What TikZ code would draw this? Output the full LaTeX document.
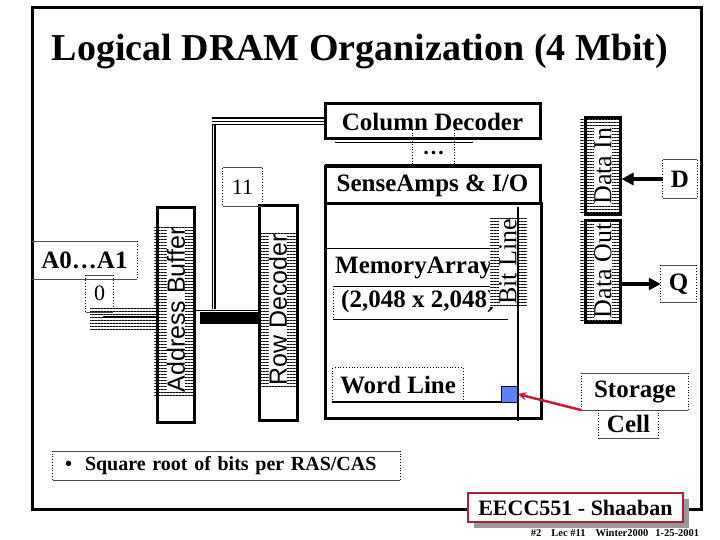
\documentclass[tikz,border=0pt]{standalone}
\usepackage{graphicx}
\usepackage{fontspec}
\setmainfont{Liberation Serif}
\newfontfamily\sansf{Liberation Sans}
\usetikzlibrary{arrows.meta,patterns.meta,shadows}
\definecolor{cellblue}{RGB}{96,128,240}
\definecolor{arrred}{RGB}{200,25,60}
\definecolor{eeccred}{RGB}{175,30,55}
\newcommand{\txtboxframe}[1]{%
  \draw[tbline] (#1.north west) -- (#1.north east) (#1.south west) -- (#1.south east);
  \draw[tbdot] (#1.north west) -- (#1.south west) (#1.north east) -- (#1.south east);}
\begin{document}
\begin{tikzpicture}[x=1pt,y=-1pt,
  thickbox/.style={draw, line width=3pt, inner sep=0pt},
  bl/.style={font=\bfseries\fontsize{25}{28}\selectfont},
  rl/.style={font=\fontsize{22}{26}\selectfont},
  vt/.style={rotate=90, fill=white, inner sep=0pt},
  tbline/.style={draw=black!70, line width=0.6pt},
  tbdot/.style={draw=black, line width=0.8pt, dotted},
  hatch/.style={fill=white, postaction={pattern={Lines[angle=0,distance=3pt,line width=1pt]}}},
  hbus/.style={line width=8pt, postaction={draw=white,line width=4.5pt}, postaction={draw=black,line width=1.4pt}},
  vbus/.style={line width=4pt, postaction={draw=white,line width=1.4pt}},
]
\useasboundingbox (0,0) rectangle (720,540);
\fill[white] (0,0) rectangle (720,540);

% outer frame
\draw[line width=3pt] (32,8) rectangle (701,509);

% title
\node[font=\bfseries\fontsize{38}{42}\selectfont, inner sep=0pt] (title) at (360,52) {Logical DRAM Organization (4 Mbit)};

% column decoder, dots, sense amps
\node[font=\bfseries\fontsize{22}{24}\selectfont, minimum width=41pt, minimum height=37pt, inner sep=0pt, text height=12pt, text depth=0pt] (dots) at (433.5,148.5) {…};
\draw[tbdot] (dots.north west) -- (dots.south west) (dots.north east) -- (dots.south east);
\node[thickbox, bl, minimum width=215pt, minimum height=35pt] (coldec) at (432.5,121.5) {Column Decoder};
\draw[line width=0.8pt] (335,142) -- (473,142);
\draw[line width=0.8pt] (325,164) -- (542,164);
\node[thickbox, bl, minimum width=215pt, minimum height=37pt] (sense) at (432.5,185.5) {SenseAmps \& I/O};

% memory array
\node[thickbox, minimum width=216pt, minimum height=214pt] (memarr) at (433,311) {};
\draw[line width=0.6pt] (326,248) -- (490,248) (333,286) -- (490,286) (333,319) -- (508,319);
\draw[tbdot] (333,286) -- (333,319);
\node[bl, anchor=west, inner sep=0pt] (memtxt) at (335,268) {MemoryArray};
\node[bl, anchor=west, inner sep=0pt] (memsize) at (341,301) {(2,048 x 2,048)};

% bit line label
\path[hatch] (490,218) rectangle (527,307);
\begin{scope}
  \clip (490,218) rectangle (527,307);
  \node[vt, font=\fontsize{26}{28}\selectfont] (bitlbl) at (508,262) {Bit Line};
\end{scope}

% word line label
\node[bl, minimum width=130pt, minimum height=34pt, inner sep=0pt] (wordlbl) at (398,385) {Word Line};
\draw[tbdot] (wordlbl.south west) -- (wordlbl.north west) -- (wordlbl.north east) -- (wordlbl.south east);

% bit line and word line
\coordinate (bltop) at (518,207);
\coordinate (blbot) at (518,421);
\coordinate (wlL) at (332,402);
\draw[line width=1.2pt] (bltop) -- (blbot);
\draw[line width=1.2pt] (wlL) -- (wlL -| bltop);

% storage cell
\node[draw=black!60!blue, fill=cellblue, line width=0.8pt, minimum size=16pt, inner sep=0pt] (cell) at (509,394) {};
\node[bl, minimum width=106pt, minimum height=37pt, inner sep=0pt] (storage) at (635,391.5) {Storage};
\node[bl, minimum width=59pt, minimum height=28pt, inner sep=0pt] (celllbl) at (628.5,424) {Cell};
\txtboxframe{storage}
\txtboxframe{celllbl}
\draw[arrred, line width=2.5pt, -{Stealth[length=9pt,width=8pt]}] (storage.south west) -- (cell.east);

% data in / data out
\path[hatch] (580,120) rectangle (620,213);
\begin{scope}
  \clip (580,120) rectangle (620,213);
  \node[vt, font=\fontsize{26}{28}\selectfont] (dinlbl) at (603,166) {Data In};
\end{scope}
\node[thickbox, minimum width=35pt, minimum height=97pt] (datain) at (602.5,166.5) {};
\path[hatch] (580,220) rectangle (620,322);
\begin{scope}
  \clip (580,220) rectangle (620,322);
  \node[vt, font=\fontsize{26}{28}\selectfont] (doutlbl) at (603,271) {Data Out};
\end{scope}
\node[thickbox, minimum width=35pt, minimum height=101pt] (dataout) at (602.5,271.5) {};

\node[bl, minimum width=34pt, minimum height=38pt, inner sep=0pt] (D) at (680,179) {D};
\node[bl, minimum width=35pt, minimum height=37pt, inner sep=0pt] (Q) at (678.5,284) {Q};
\txtboxframe{D}
\txtboxframe{Q}
\draw[line width=3.5pt, -{Triangle[length=12pt,width=12pt]}] (D.west) -- (datain.east |- D.west);
\draw[line width=3.5pt, -{Triangle[length=12pt,width=12pt]}] (dataout.east |- Q.west) -- (Q.west);

% address buffer
\path[hatch] (154,228) rectangle (194,397);
\begin{scope}
  \clip (154,228) rectangle (194,397);
  \node[vt, font=\sansf\fontsize{25}{27}\selectfont] (ablbl) at (176,310) {Address Buffer};
\end{scope}
\node[thickbox, minimum width=37pt, minimum height=214pt] (addrbuf) at (175.5,315) {};

% row decoder
\path[hatch] (258,232) rectangle (297,388);
\begin{scope}
  \clip (258,232) rectangle (297,388);
  \node[vt, font=\sansf\fontsize{25}{27}\selectfont] (rdlbl) at (278,310) {Row Decoder};
\end{scope}
\node[thickbox, minimum width=38pt, minimum height=214pt] (rowdec) at (278,313) {};

% address labels
\node[bl, minimum width=105pt, minimum height=38pt, inner sep=0pt] (A0) at (84.5,260) {A0…A1};
\txtboxframe{A0}
\node[rl, minimum width=27pt, minimum height=37pt, inner sep=0pt] (zero) at (99.5,293.5) {0};
\txtboxframe{zero}
\node[rl, minimum width=39pt, minimum height=38pt, inner sep=0pt] (eleven) at (242.5,187) {11};
\txtboxframe{eleven}

% buses
\path[pattern={Lines[angle=0,distance=3pt,line width=1pt]}] (90,306) rectangle (157,330);
\coordinate (abus) at (103,317);
\draw[line width=2.5pt] (abus) -- (addrbuf.west |- abus);
\coordinate (rbus) at (200,318);
\draw[line width=12pt] (rbus) -- (rowdec.west |- rbus);
\draw[line width=1pt] (addrbuf.east |- 0,310) -- (rowdec.west |- 0,310);
\coordinate (branch) at (213.5,309);
\draw[vbus] (branch) -- (branch |- coldec.west);
\draw[hbus] ([xshift=-2pt]branch |- coldec.west) -- (coldec.west);

% bullet
\node[font=\bfseries\fontsize{20}{24}\selectfont, text width=323pt, align=left, inner xsep=12pt, inner ysep=0pt, minimum height=29pt] (bullet) at (226.5,465.5) {\textbullet\hspace{13pt}Square root of bits per RAS/CAS};
\txtboxframe{bullet}

% footer
\node[draw=eeccred, line width=2pt, fill=white, drop shadow={shadow xshift=6pt, shadow yshift=-6pt, fill=black!40, opacity=1}, font=\bfseries\fontsize{22}{24}\selectfont, minimum width=215pt, minimum height=29pt, inner sep=0pt] (eecc) at (575.5,507.5) {EECC551 - Shaaban};
\node[font=\bfseries\fontsize{10.5}{12}\selectfont, inner sep=0pt] (foot) at (615,533) {\#2\hspace{10pt}Lec \#11\hspace{10pt}Winter2000\hspace{7pt}1-25-2001};
\end{tikzpicture}
\end{document}
